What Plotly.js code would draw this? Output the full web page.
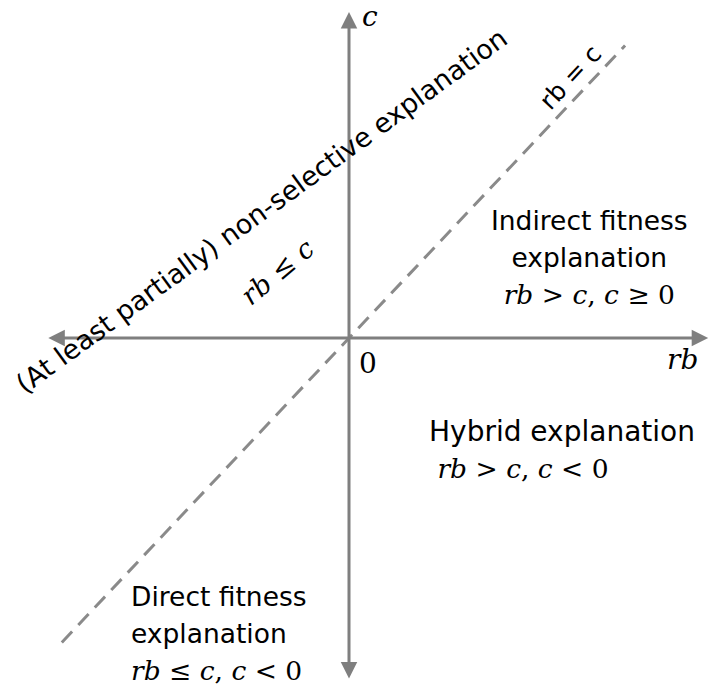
<!DOCTYPE html>
<html>
<head>
<meta charset="utf-8">
<script src="https://cdn.plot.ly/plotly-3.0.1.min.js"></script>
<style>html,body{margin:0;padding:0;background:#fff;}#chart{width:710px;height:686px;}</style>
</head>
<body>
<div id="chart"></div>
<script>
// Coordinate frame (data units): rb on x, c on y
const rbRange = [-1.163, 1.203];
const cRange = [-1.094, 1.063];
// Axis extents (arrow tips)
const rbAxis = [-1.007, 1.197];
const cAxis = [-1.075, 1.025];
// Dashed line rb = c
const diagRb = [-0.957, 0.92];
const diagC = [-0.957, 0.92];

const labelNames = ["c", "0", "rb"];
const labelX = [0.07, 0.063, 1.113];
const labelY = [1.01, -0.079, -0.066];

const SANS = "'DejaVu Sans', sans-serif";
const MATH = "'DejaVu Serif', serif";
const GRAY = "#7f7f7f";
const m = s => '<span style="font-family:' + MATH + '"><i>' + s + '</i></span>';
const mn = s => '<span style="font-family:' + MATH + '">' + s + '</span>';
const sz = (s, px) => '<span style="font-size:' + px + 'px">' + s + '</span>';
const mz = (s) => '<span style="font-size:26.5px">' + s + '</span>';

const regionTexts = [
  { text: "(At least partially) non-selective explanation", x: -0.29, y: 0.40, angle: -36, anchor: "center", align: "center", size: 27 },
  { text: m("rb") + mn(" ≤ ") + m("c"), x: -0.237, y: 0.208, angle: -40, anchor: "center", align: "center", size: 27 },
  { text: "rb = c", x: 0.737, y: 0.82, angle: -47, anchor: "center", align: "center", size: 25 },
  { text: sz("Indirect fitness", 26.5) + "<br>" + sz("explanation", 26.5) + "<br>" + mz(m("rb") + mn(" > ") + m("c") + mn(", ") + m("c") + mn(" ≥ 0")), x: 0.80, y: 0.252, angle: 0, anchor: "center", align: "center", size: 28.5 },
  { text: sz("Hybrid explanation", 28) + "<br>" + mz(mn("&nbsp;") + m("rb") + mn(" > ") + m("c") + mn(", ") + m("c") + mn(" < 0")), x: 0.26, y: -0.35, angle: 0, anchor: "left", align: "left", size: 28.5 },
  { text: sz("Direct fitness", 26.5) + "<br>" + sz("explanation", 26.5) + "<br>" + mz(m("rb") + mn(" ≤ ") + m("c") + mn(", ") + m("c") + mn(" < 0")), x: -0.733, y: -0.928, angle: 0, anchor: "left", align: "left", size: 28.5 }
];

const traces = [{
  x: diagRb, y: diagC, mode: "lines", type: "scatter",
  line: { color: "#8a8a8a", width: 3, dash: "15px,9px" },
  hoverinfo: "skip", showlegend: false
}];

const annotations = [];
annotations.push({
  x: rbAxis[1], y: 0, ax: rbAxis[0], ay: 0, xref: "x", yref: "y", axref: "x", ayref: "y",
  text: "", showarrow: true, arrowhead: 2, startarrowhead: 2, arrowside: "end+start",
  arrowwidth: 3, arrowsize: 1.1, startarrowsize: 1.1, arrowcolor: GRAY
});
annotations.push({
  x: 0, y: cAxis[1], ax: 0, ay: cAxis[0], xref: "x", yref: "y", axref: "x", ayref: "y",
  text: "", showarrow: true, arrowhead: 2, startarrowhead: 2, arrowside: "end+start",
  arrowwidth: 3, arrowsize: 1.1, startarrowsize: 1.1, arrowcolor: GRAY
});
labelNames.forEach((n, i) => {
  annotations.push({
    x: labelX[i], y: labelY[i], xref: "x", yref: "y", showarrow: false,
    text: n === "0" ? mn(n) : m(n), font: { size: 28, color: "#000", family: MATH },
    xanchor: "center", yanchor: "middle"
  });
});
regionTexts.forEach(t => {
  annotations.push({
    x: t.x, y: t.y, xref: "x", yref: "y", showarrow: false, text: t.text,
    textangle: t.angle, xanchor: t.anchor, yanchor: "middle", align: t.align,
    font: { size: t.size, color: "#000", family: SANS }
  });
});

const layout = {
  width: 710, height: 686,
  margin: { l: 0, r: 0, t: 0, b: 0 },
  paper_bgcolor: "#fff", plot_bgcolor: "#fff",
  xaxis: { range: rbRange, visible: false, fixedrange: true },
  yaxis: { range: cRange, visible: false, fixedrange: true },
  annotations: annotations,
  showlegend: false
};

Plotly.newPlot("chart", traces, layout, { staticPlot: true, displayModeBar: false });
</script>
</body>
</html>
